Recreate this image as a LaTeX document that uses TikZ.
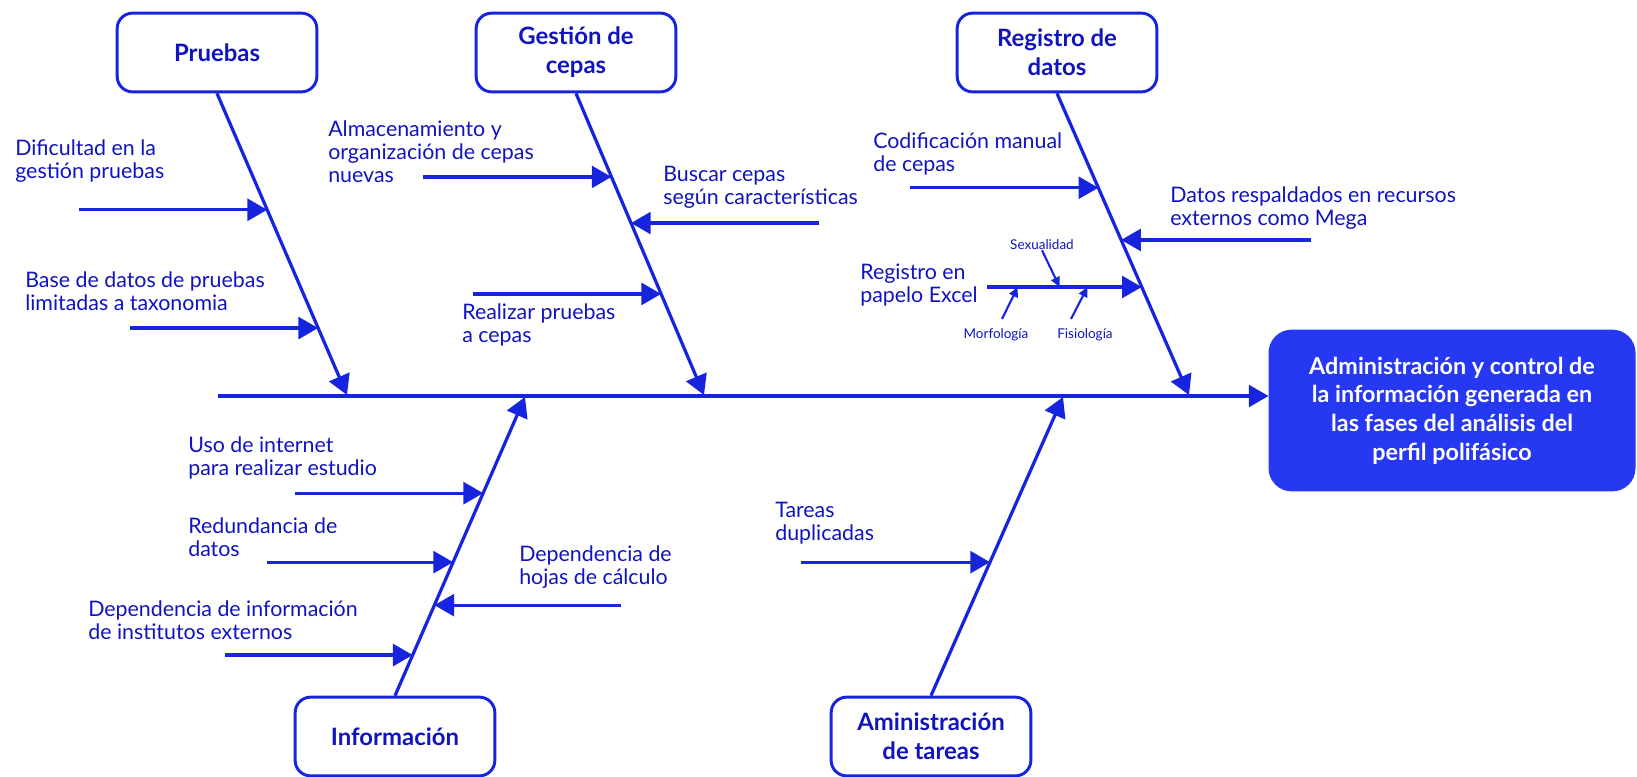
\documentclass[tikz,border=0pt]{standalone}
\usepackage{fontspec}
\setmainfont{Lato}
\usetikzlibrary{arrows.meta,calc}

\definecolor{lineblue}{RGB}{22,36,222}
\definecolor{textblue}{RGB}{16,20,190}
\definecolor{headblue}{RGB}{38,56,242}

\tikzset{
  category/.style={draw=lineblue, line width=2.1pt, rounded corners=11pt, fill=white,
    minimum width=142pt, minimum height=56pt, align=center, text=textblue,
    font=\bfseries\fontsize{17}{20.6}\selectfont},
  effect/.style={draw=headblue, fill=headblue, line width=1pt, rounded corners=16pt,
    minimum width=260pt, minimum height=114pt, align=center, text=white,
    font=\bfseries\fontsize{16.6}{20.3}\selectfont},
  bone/.style={lineblue, line width=2.3pt, -{Triangle[length=14pt,width=15.5pt]}},
  subcause/.style={lineblue, line width=1.5pt, -{Triangle[length=7pt,width=6.5pt]}},
  causetext/.style={anchor=west, align=left, inner sep=0pt, text=textblue,
    font=\fontsize{15.2}{16.4}\selectfont},
  smalltext/.style={inner sep=0pt, text=textblue, font=\fontsize{9.6}{11}\selectfont},
}

\begin{document}
\begin{tikzpicture}[x=0.025cm, y=-0.025cm]

    % Fix the page size
    \useasboundingbox (0,0) rectangle (1637,776);

    % Category boxes, top row and bottom row
    \node[category] (pruebas) at (217,52.5) {Pruebas};
    \node[category] (gestion) at (576,52.5) {Gestión de\\cepas};
    \node[category] (registro) at (1057,52.5) {Registro de\\datos};
    \node[category] (informacion) at (395,736.5) {Información};
    \node[category] (tareas) at (931,736.5) {Aministración\\de tareas};

    % Effect box at the head of the fish
    \node[effect] (efecto) at (1452,410.5) {Administración y control de\\la información generada en\\las fases del análisis del\\perfil polifásico};

    % Main spine
    \coordinate (spine) at (218,396);
    \draw[bone] (spine) -- (spine -| efecto.west);

    % Tips of the bones on the spine
    \coordinate (P) at (347,395);
    \coordinate (G) at (704,395);
    \coordinate (R) at (1189,395);
    \coordinate (I) at (525,397);
    \coordinate (T) at (1063,397);

    % Bones from the categories to the spine
    \draw[bone] (pruebas.south) -- (P);
    \draw[bone] (gestion.south) -- (G);
    \draw[bone] (registro.south) -- (R);
    \draw[bone] (informacion.north) -- (I);
    \draw[bone] (tareas.north) -- (T);

    % Points where the causes meet the bones
    \coordinate (P1) at ($(pruebas.south)!0.386!(P)$);
    \coordinate (P2) at ($(pruebas.south)!0.778!(P)$);
    \coordinate (G1) at ($(gestion.south)!0.277!(G)$);
    \coordinate (G2) at ($(gestion.south)!0.43!(G)$);
    \coordinate (G3) at ($(gestion.south)!0.665!(G)$);
    \coordinate (R1) at ($(registro.south)!0.313!(R)$);
    \coordinate (R2) at ($(registro.south)!0.486!(R)$);
    \coordinate (R3) at ($(registro.south)!0.642!(R)$);
    \coordinate (I1) at ($(informacion.north)!0.678!(I)$);
    \coordinate (I2) at ($(informacion.north)!0.447!(I)$);
    \coordinate (I3) at ($(informacion.north)!0.303!(I)$);
    \coordinate (I4) at ($(informacion.north)!0.136!(I)$);
    \coordinate (T1) at ($(tareas.north)!0.447!(T)$);

    % Free ends of the cause arrows
    \coordinate (P1s) at ($(P1)+(-188,0)$);
    \coordinate (P2s) at ($(P2)+(-188,0)$);
    \coordinate (G1s) at ($(G1)+(-188,0)$);
    \coordinate (G2s) at ($(G2)+(188,0)$);
    \coordinate (G3s) at ($(G3)+(-188,0)$);
    \coordinate (R1s) at ($(R1)+(-188,0)$);
    \coordinate (R2s) at ($(R2)+(190,0)$);
    \coordinate (R3s) at ($(R3)+(-155,0)$);
    \coordinate (I1s) at ($(I1)+(-188,0)$);
    \coordinate (I2s) at ($(I2)+(-186,0)$);
    \coordinate (I3s) at ($(I3)+(187,0)$);
    \coordinate (I4s) at ($(I4)+(-188,0)$);
    \coordinate (T1s) at ($(T1)+(-189,0)$);

    % Cause arrows
    \draw[bone] (P1s) -- (P1);
    \draw[bone] (P2s) -- (P2);
    \draw[bone] (G1s) -- (G1);
    \draw[bone] (G2s) -- (G2);
    \draw[bone] (G3s) -- (G3);
    \draw[bone] (R1s) -- (R1);
    \draw[bone] (R2s) -- (R2);
    \draw[bone] (R3s) -- (R3);
    \draw[bone] (I1s) -- (I1);
    \draw[bone] (I2s) -- (I2);
    \draw[bone] (I3s) -- (I3);
    \draw[bone] (I4s) -- (I4);
    \draw[bone] (T1s) -- (T1);

    % Cause texts
    \node[causetext] (dificultad) at (15,161) {Dificultad en la\\gestión pruebas};
    \node[causetext] (basedatos) at (25,291) {Base de datos de pruebas\\limitadas a taxonomia};
    \node[causetext] (almacen) at (328,152) {Almacenamiento y\\organización de cepas\\nuevas};
    \node[causetext] (buscar) at (663,187) {Buscar cepas\\según características};
    \node[causetext] (realizar) at (462,325) {Realizar pruebas\\a cepas};
    \node[causetext] (codif) at (873,154) {Codificación manual\\de cepas};
    \node[causetext] (respaldo) at (1170,208) {Datos respaldados en recursos\\externos como Mega};
    \node[causetext] (papel) at (860,285) {Registro en\\papelo Excel};
    \node[causetext] (internet) at (188,458) {Uso de internet\\para realizar estudio};
    \node[causetext] (redund) at (188,537) {Redundancia de\\datos};
    \node[causetext] (hojas) at (519,567) {Dependencia de\\hojas de cálculo};
    \node[causetext] (institutos) at (88,620) {Dependencia de información\\de institutos externos};
    \node[causetext] (duplic) at (775,523) {Tareas\\duplicadas};

    % Sub-causes of the paper record
    \node[smalltext] (sexual) at (1042,245) {Sexualidad};
    \node[smalltext] (morfo) at (996,335) {Morfología};
    \node[smalltext] (fisio) at (1085,335) {Fisiología};
    \coordinate (S) at ($(R3s)!0.47!(R3)$);
    \coordinate (M) at ($(R3s)!0.2!(R3)$);
    \coordinate (F) at ($(R3s)!0.65!(R3)$);
    \coordinate (M0) at (1002,319);
    \coordinate (F0) at (1071,319);
    \draw[subcause] (sexual.south) -- (S);
    \draw[subcause] (M0) -- (M);
    \draw[subcause] (F0) -- (F);

\end{tikzpicture}
\end{document}
